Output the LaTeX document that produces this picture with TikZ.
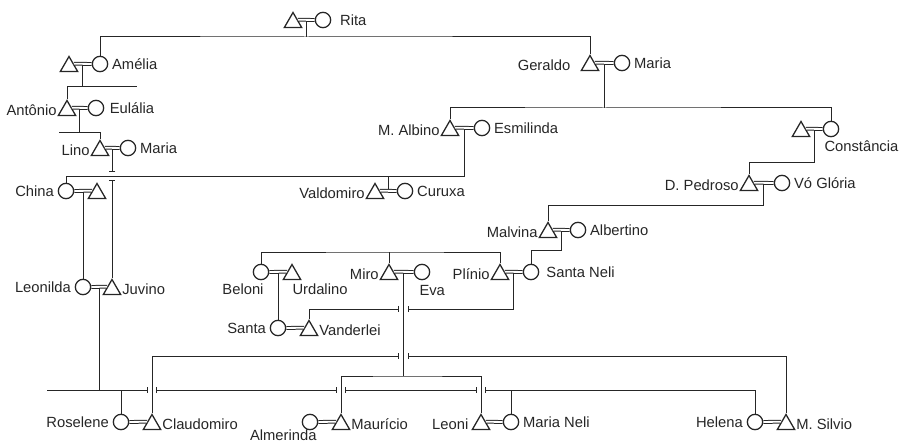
\documentclass[tikz,border=0pt]{standalone}
\usepackage{fontspec}
\setmainfont{Liberation Sans}
\usetikzlibrary{arrows.meta, calc, shapes.geometric}

\begin{document}
\begin{tikzpicture}[
  x=0.3mm, y=-0.3mm,
  font=\fontsize{12.6}{15}\selectfont,
  color=black!85,
  line width=0.85pt,
  every label/.style={inner sep=1mm},
  man/.style={draw, line width=1.1pt, regular polygon, regular polygon sides=3,
    minimum size=6mm, inner sep=0pt, yshift=-0.75mm},
  woman/.style={draw, line width=1.1pt, circle, minimum size=4.6mm, inner sep=0pt},
  wed/.style={double, double distance=0.55mm},
  gapend/.style={-{Bar[width=1.8mm]}, shorten >=1.3mm},
  gapstart/.style={{Bar[width=1.8mm]}-, shorten <=1.3mm},
  gapboth/.style={{Bar[width=1.8mm]}-{Bar[width=1.8mm]},
    shorten <=1.3mm, shorten >=1.3mm}
]
\useasboundingbox (0,0) rectangle (900,445);

% =========================
% Couples
% =========================
\node[man] (ritaH) at (293,20) {};
\node[woman, label={[label distance=1.5mm]right:Rita}] (rita) at (323,20) {};

\node[man] (ameliaH) at (69,64) {};
\node[woman, label=right:Amélia] (amelia) at (100,64) {};

\node[man, label=left:Antônio] (antonio) at (67,108) {};
\node[woman, label={[label distance=0.5mm]right:Eulália}] (eulalia) at (96,108) {};

\node[man, label=left:Lino] (lino) at (100,148) {};
\node[woman, label=right:Maria] (marial) at (128,148) {};

\node[man, label={[label distance=2.8mm]left:Geraldo}] (geraldo) at (590,63) {};
\node[woman, label=right:Maria] (mariag) at (622,63) {};

\node[man, label=left:M. Albino] (albino) at (450,128) {};
\node[woman, label=right:Esmilinda] (esmilinda) at (482,128) {};

\node[man] (constH) at (801,129) {};
\node[woman, label={[anchor=north west, xshift=-3.1mm]south:Constância}] (constancia) at (831,129) {};

\node[woman, label=left:China] (china) at (66,191) {};
\node[man] (chinaH) at (97,191) {};

\node[man, label=left:Valdomiro] (valdomiro) at (375,191) {};
\node[woman, label=right:Curuxa] (curuxa) at (405,191) {};

\node[man, label=left:D. Pedroso] (pedroso) at (749,183) {};
\node[woman, label=right:Vó Glória] (gloria) at (782,183) {};

\node[man, label=left:Malvina] (malvina) at (548,230) {};
\node[woman, label=right:Albertino] (albertino) at (578,230) {};

\node[woman, label={[anchor=north east, xshift=1.9mm]south:Beloni}] (beloni) at (261,272) {};
\node[man, label={[anchor=north west, xshift=-1mm]south:Urdalino}] (urdalino) at (292,272) {};

\node[man, label=left:Miro] (miro) at (389,272) {};
\node[woman, label={[anchor=north west, xshift=-1.9mm, yshift=-0.5mm]south:Eva}] (eva) at (422,272) {};

\node[man, label=left:Plínio] (plinio) at (500,272) {};
\node[woman, label={[label distance=1mm]right:Santa Neli}] (santaneli) at (531,272) {};

\node[woman, label=left:Leonilda] (leonilda) at (83,287) {};
\node[man, label=right:Juvino] (juvino) at (112,287) {};

\node[woman, label=left:Santa] (santa) at (278,328) {};
\node[man, label=right:Vanderlei] (vanderlei) at (309,328) {};

\node[woman, label=left:Roselene] (roselene) at (121,422) {};
\node[man, label=right:Claudomiro] (claudomiro) at (152,422) {};

\node[woman, label={[anchor=north east, xshift=3.1mm, yshift=1.2mm]south:Almerinda}] (almerinda) at (310,422) {};
\node[man, label=right:Maurício] (mauricio) at (341,422) {};

\node[man, label={[label distance=0.7mm]left:Leoni}] (leoni) at (481,422) {};
\node[woman, label=right:Maria Neli] (marianeli) at (511,422) {};

\node[woman, label=left:Helena] (helena) at (755,422) {};
\node[man, label=right:M. Silvio] (silvio) at (786,422) {};

% marriage lines
\draw[wed] (ritaH.side 3) -- (rita.west);
\draw[wed] (ameliaH.side 3) -- (amelia.west);
\draw[wed] (antonio.side 3) -- (eulalia.west);
\draw[wed] (lino.side 3) -- (marial.west);
\draw[wed] (geraldo.side 3) -- (mariag.west);
\draw[wed] (albino.side 3) -- (esmilinda.west);
\draw[wed] (constH.side 3) -- (constancia.west);
\draw[wed] (china.east) -- (chinaH.side 1);
\draw[wed] (valdomiro.side 3) -- (curuxa.west);
\draw[wed] (pedroso.side 3) -- (gloria.west);
\draw[wed] (malvina.side 3) -- (albertino.west);
\draw[wed] (beloni.east) -- (urdalino.side 1);
\draw[wed] (miro.side 3) -- (eva.west);
\draw[wed] (plinio.side 3) -- (santaneli.west);
\draw[wed] (leonilda.east) -- (juvino.side 1);
\draw[wed] (santa.east) -- (vanderlei.side 1);
\draw[wed] (roselene.east) -- (claudomiro.side 1);
\draw[wed] (almerinda.east) -- (mauricio.side 1);
\draw[wed] (leoni.side 3) -- (marianeli.west);
\draw[wed] (helena.east) -- (silvio.side 1);

% descent points (lower line of each marriage)
\coordinate (c1) at ($(ritaH.side 3)!.5!(rita.west)+(0,1.4)$);
\coordinate (c2) at ($(ameliaH.side 3)!.5!(amelia.west)+(0,1.4)$);
\coordinate (c3) at ($(antonio.side 3)!.5!(eulalia.west)+(0,1.4)$);
\coordinate (c4) at ($(lino.side 3)!.5!(marial.west)+(0,1.4)$);
\coordinate (c5) at ($(geraldo.side 3)!.5!(mariag.west)+(0,1.4)$);
\coordinate (c6) at ($(albino.side 3)!.5!(esmilinda.west)+(0,1.4)$);
\coordinate (c7) at ($(constH.side 3)!.5!(constancia.west)+(0,1.4)$);
\coordinate (c8) at ($(china.east)!.5!(chinaH.side 1)+(0,1.4)$);
\coordinate (c9) at ($(valdomiro.side 3)!.5!(curuxa.west)+(0,-1.4)$);
\coordinate (c10) at ($(pedroso.side 3)!.5!(gloria.west)+(0,1.4)$);
\coordinate (c11) at ($(malvina.side 3)!.5!(albertino.west)+(0,1.4)$);
\coordinate (c12) at ($(beloni.east)!.5!(urdalino.side 1)+(0,1.4)$);
\coordinate (c13) at ($(miro.side 3)!.5!(eva.west)+(0,1.4)$);
\coordinate (c14) at ($(plinio.side 3)!.5!(santaneli.west)+(0,1.4)$);
\coordinate (c15) at ($(leonilda.east)!.5!(juvino.side 1)+(0,1.4)$);

% =========================
% Descent lines
% =========================
\coordinate (s1) at (306,37);
\draw (c1) -- (c1 |- s1);
\draw (amelia.north) |- (s1) -| (geraldo.corner 1);

\coordinate (s2) at (137,87);
\draw (c2) -- (c2 |- s2);
\draw (antonio.corner 1) |- (s2);

\coordinate (s3) at (59,132);
\draw (c3) -- (c3 |- s3);
\draw (s3) -| (lino.corner 1);

\coordinate (s4) at (465,176);
\draw[gapend] (c4) -- (c4 |- s4);
\draw[gapstart] (juvino.corner 1 |- s4) -- (juvino.corner 1);
\draw (china.north) |- (c6 |- s4) -- (c6);
\draw (c9) -- (c9 |- s4);
\draw (leonilda.north) -- (leonilda.north |- c8);

\coordinate (s5) at (604,108);
\draw (c5) -- (c5 |- s5);
\draw (albino.corner 1) |- (s5) -| (constancia.north);

\coordinate (s6) at (814,162);
\draw (c7) -- (c7 |- s6) -| (pedroso.corner 1);

\coordinate (s7) at (764,205);
\draw (c10) -- (c10 |- s7) -| (malvina.corner 1);

\coordinate (s8) at (561,250);
\draw (c11) -- (c11 |- s8) -| (santaneli.north);

\coordinate (s9) at (389,252);
\draw (beloni.north) |- (s9) -| (plinio.corner 1);
\draw (miro.corner 1) -- (miro.corner 1 |- s9);
\draw (santa.north) -- (santa.north |- c12);

\coordinate (k1) at (403,309);
\draw[gapend] (c14) |- (c13 |- k1);
\draw[gapstart] (c13 |- k1) -| (vanderlei.corner 1);

\coordinate (k2) at (403,356);
\draw[gapend] (claudomiro.corner 1) |- (c13 |- k2);
\draw[gapstart] (c13 |- k2) -| (silvio.corner 1);

\coordinate (s10) at (403,376);
\draw (c13) -- (c13 |- s10);
\draw (mauricio.corner 1) |- (c13 |- s10) -| (leoni.corner 1);

\coordinate (s11) at (47,390);
\draw (c15) -- (c15 |- s11);
\draw[gapend] (s11) -- (claudomiro |- s11);
\draw[gapboth] (claudomiro |- s11) -- (mauricio |- s11);
\draw[gapboth] (mauricio |- s11) -- (leoni |- s11);
\draw[gapstart] (leoni |- s11) -| (helena.north);
\draw (roselene.north) -- (roselene |- s11);
\draw (marianeli.north) -- (marianeli |- s11);

\end{tikzpicture}
\end{document}
